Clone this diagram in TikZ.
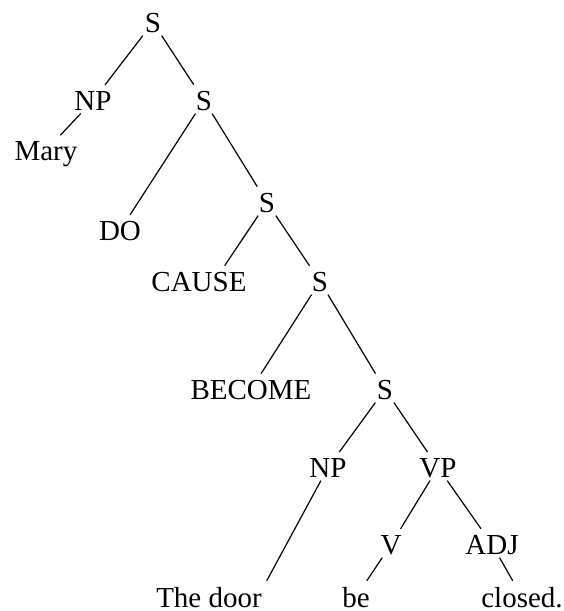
\documentclass[tikz,border=0pt]{standalone}
\usepackage{fontspec}
\setmainfont{Liberation Serif}
\usetikzlibrary{positioning}
\tikzset{
  every picture/.style={line width=0.6pt},
  cat/.style={anchor=base, inner sep=1.5pt, text depth=0pt, font=\fontsize{14.5}{17}\selectfont},
  branch/.style={draw=black, shorten >=1.5pt},
}
\begin{document}
\begin{tikzpicture}[x=0.5pt, y=-0.5pt]
  \useasboundingbox (0,0) rectangle (563,611);
  % ---- upper part
  \node[cat] (s1) at (153,32) {S};
  \node[cat] (np1) at (93,110) {NP};
  \node[cat] (s2) at (204,110) {S};
  \node[cat] (mary) at (46,160) {Mary};
  \node[cat] (s3) at (267,212) {S};
  \node[cat] (do) at (120,240) {DO};
  \node[cat] (cause) at (199,291) {CAUSE};
  \node[cat] (s4) at (320,291) {S};
  \node[cat] (become) at (251,399) {BECOME};
  \node[cat] (s5) at (385,399) {S};
  % ---- lower part
  \node[cat] (np2) at (328,477) {NP};
  \node[cat] (vp) at (438,477) {VP};
  \node[cat] (v) at (391,554) {V};
  \node[cat] (adj) at (492,554) {ADJ};
  \node[cat] (door) at (209,607) {The door};
  \node[cat] (be) at (356,607) {be};
  \node[cat] (closed) at (522,607) {closed.};
  % ---- branches
  \draw[branch] (s1) -- (np1);
  \draw[branch] (s1) -- (s2);
  \draw[branch] (np1) -- (mary);
  \draw[branch] (s2) -- (do);
  \draw[branch] (s2) -- (s3);
  \draw[branch] (s3) -- ([xshift=12pt]cause.north);
  \draw[branch] (s3) -- (s4);
  \draw[branch] (s4) -- (become);
  \draw[branch] (s4) -- (s5);
  \draw[branch] (s5) -- (np2);
  \draw[branch] (s5) -- (vp);
  \draw[branch] (np2) -- (door.north east);
  \draw[branch] (vp) -- (v);
  \draw[branch] (vp) -- (adj);
  \draw[branch] (v) -- (be);
  \draw[branch] (adj) -- (closed);
\end{tikzpicture}
\end{document}
